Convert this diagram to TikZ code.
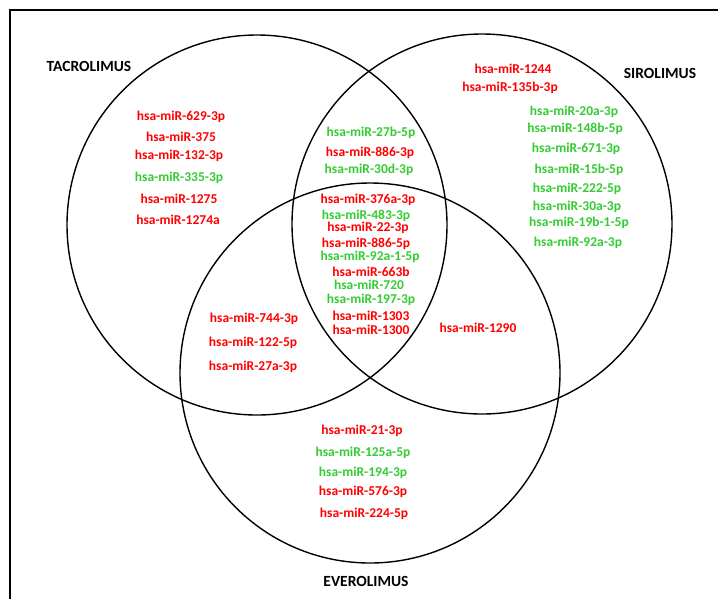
\documentclass[tikz,border=0pt]{standalone}
\usepackage{fontspec}
\setmainfont{Carlito}
\definecolor{upred}{RGB}{255,0,0}
\definecolor{downgreen}{RGB}{51,204,51}

\begin{document}
\begin{tikzpicture}[
  x=1pt,y=-1pt,
  font=\fontsize{13.5}{15}\selectfont\bfseries,
  set/.style={draw=black,line width=1.4pt},
  drug/.style={font=\fontsize{15.5}{18}\selectfont\bfseries,inner sep=0pt},
  upmir/.style={text=upred,inner sep=0pt},
  downmir/.style={text=downgreen,inner sep=0pt}
]
\useasboundingbox (0,0) rectangle (718,598);
\clip (0,0) rectangle (718,598);
\fill[white] (0,0) rectangle (718,598);
% Outer frame, cut by the page on the right and at the bottom.
\draw[line width=2.6pt] (10,10) rectangle (760,640);

% Three drug sets.
\coordinate (tac) at (257,225);
\coordinate (sir) at (482,224);
\coordinate (eve) at (370,373);
\foreach \c in {tac,sir,eve}{\draw[set] (\c) circle (190);}

\node[drug] (tacname) at (89,66) {TACROLIMUS};
\node[drug] (sirname) at (660,73) {SIROLIMUS};
\node[drug] (evename) at (366,581) {EVEROLIMUS};

% Tacrolimus only
\foreach \x/\y/\mir/\kind [count=\i] in {181/117/629-3p/upmir,181/137/375/upmir,179/156/132-3p/upmir,
    179/178/335-3p/downmir,179/199/1275/upmir,178/220/1274a/upmir}{
  \node[\kind] (tac\i) at (\x,\y) {hsa-miR-\mir};
}

% Sirolimus only
\foreach \x/\y/\mir/\kind [count=\i] in {513/69/1244/upmir,510/88/135b-3p/upmir,574/112/20a-3p/downmir,
    575/129/148b-5p/downmir,576/149/671-3p/downmir,579/170/15b-5p/downmir,577/189/222-5p/downmir,
    577/207/30a-3p/downmir,579/223/19b-1-5p/downmir,578/243/92a-3p/downmir}{
  \node[\kind] (sir\i) at (\x,\y) {hsa-miR-\mir};
}

% Everolimus only
\foreach \x/\y/\mir/\kind [count=\i] in {362/431/21-3p/upmir,363/453/125a-5p/downmir,363/473/194-3p/downmir,
    363/492/576-3p/upmir,364/514/224-5p/upmir}{
  \node[\kind] (eve\i) at (\x,\y) {hsa-miR-\mir};
}

% Pairwise overlaps
\foreach \x/\y/\mir/\kind [count=\i] in {371/133/27b-5p/downmir,370/153/886-3p/upmir,369/170/30d-3p/downmir}{
  \node[\kind] (ts\i) at (\x,\y) {hsa-miR-\mir};
}
\foreach \x/\y/\mir/\kind [count=\i] in {254/319/744-3p/upmir,253/343/122-5p/upmir,253/367/27a-3p/upmir}{
  \node[\kind] (te\i) at (\x,\y) {hsa-miR-\mir};
}
\node[upmir] (se1) at (478,328) {hsa-miR-1290};

% Shared by all three
\foreach \x/\y/\mir/\kind [count=\i] in {368/200/376a-3p/upmir,366/216/483-3p/downmir,368/228/22-3p/upmir,
    366/244/886-5p/upmir,370/257/92a-1-5p/downmir,371/272/663b/upmir,369/285/720/downmir,
    371/300/197-3p/downmir,371/316/1303/upmir,371/330/1300/upmir}{
  \node[\kind] (all\i) at (\x,\y) {hsa-miR-\mir};
}
\end{tikzpicture}
\end{document}
